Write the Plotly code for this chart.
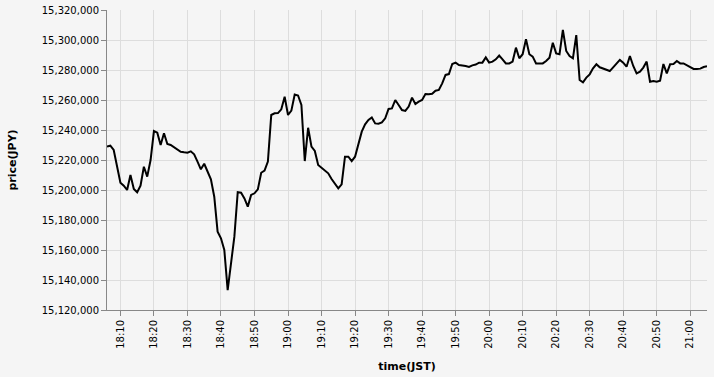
import plotly.graph_objects as go
import pandas as pd

start_time = "2024-01-01 18:06"
prices = [
    15228900, 15229500, 15226700, 15216000, 15204900, 15202900, 15200000, 15210000, 15200700, 15198500,
    15202900, 15215500, 15208900, 15220000, 15239300, 15238200, 15230000, 15237800, 15230700, 15230000,
    15228400, 15226700, 15225500, 15225100, 15224900, 15225800, 15223800, 15218900, 15213800, 15217500,
    15212200, 15207100, 15195500, 15172200, 15167800, 15160000, 15133300, 15152200, 15168900, 15198500,
    15198200, 15194400, 15188900, 15196700, 15197800, 15200400, 15211500, 15212900, 15218900, 15250000,
    15251100, 15251300, 15253800, 15262200, 15250000, 15252900, 15263600, 15263000, 15256700, 15219300,
    15241500, 15228900, 15226000, 15216700, 15214900, 15212700, 15211100, 15207300, 15203800, 15201100,
    15203800, 15222200, 15222200, 15219300, 15222200, 15231100, 15238900, 15243800, 15246700, 15248400,
    15244400, 15244200, 15245100, 15247800, 15254000, 15254400, 15260000, 15256700, 15253300, 15252700,
    15255600, 15261600, 15257300, 15258900, 15260000, 15264000, 15263800, 15264200, 15266200, 15266700,
    15271100, 15276700, 15277300, 15284000, 15284900, 15283300, 15283100, 15282700, 15282000, 15283100,
    15283600, 15284900, 15284900, 15288400, 15284900, 15285600, 15287100, 15289600, 15287100, 15284400,
    15284400, 15285600, 15294900, 15287800, 15290500, 15300500, 15290500, 15288900, 15284400, 15284400,
    15284400, 15286000, 15288200, 15298200, 15291100, 15290500, 15306700, 15292700, 15289300, 15287800,
    15303300, 15273300, 15271800, 15274900, 15277100, 15281100, 15283800, 15281800, 15281100, 15280000,
    15279300, 15281800, 15284400, 15286700, 15284900, 15282200, 15289300, 15282700, 15277800, 15278900,
    15281600, 15285600, 15272200, 15272700, 15272200, 15272900, 15284000, 15277800, 15283800, 15284000,
    15286000, 15284400, 15284400, 15283300, 15282200, 15280700, 15280600, 15280900, 15282000, 15282500,
]
times = pd.date_range(start_time, periods=len(prices), freq="1min")
y_ticks = list(range(15120000, 15320001, 20000))

fig = go.Figure()
fig.add_trace(go.Scatter(x=times, y=prices, mode="lines",
                         line=dict(color="#000000", width=2), hoverinfo="x+y"))

axis_font = dict(family="DejaVu Sans", size=10, color="#000000")
title_font = dict(family="DejaVu Sans", size=11, color="#000000")

fig.update_layout(
    width=714, height=377,
    margin=dict(l=107, r=7, t=10, b=67),
    paper_bgcolor="#f5f5f5", plot_bgcolor="#f5f5f5",
    showlegend=False,
    xaxis=dict(
        range=[times[0], times[-1]],
        type="date",
        tick0="2024-01-01 18:10", dtick=600000,
        tickformat="%H:%M", tickangle=-90,
        tickfont=axis_font,
        ticks="outside", ticklen=5, tickcolor="#888888",
        showline=True, linecolor="#888888", linewidth=1,
        showgrid=True, gridcolor="#dddddd", gridwidth=1,
        zeroline=False,
        title=dict(text="<b>time(JST)</b>", font=title_font, standoff=14),
        automargin=False,
    ),
    yaxis=dict(
        range=[15120000, 15320000],
        tickvals=y_ticks, tickformat=",d",
        tickfont=axis_font,
        ticks="outside", ticklen=5, tickcolor="#888888",
        showline=True, linecolor="#888888", linewidth=1,
        showgrid=True, gridcolor="#dddddd", gridwidth=1,
        zeroline=False,
        title=dict(text="<b>price(JPY)</b>", font=title_font, standoff=22),
        automargin=False,
    ),
)

fig.write_html("out.html")
